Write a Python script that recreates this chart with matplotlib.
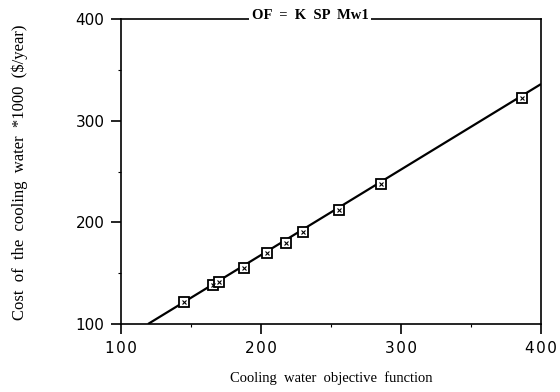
import matplotlib
matplotlib.use("Agg")
import matplotlib.pyplot as plt
from matplotlib.ticker import MultipleLocator, FixedLocator

# Cooling water objective function vs. annual cost of cooling water
objective = [145, 165.7, 170, 187.9, 204.3, 217.9, 230, 255.7, 285.7, 386.4]
cost = [121.6, 138.3, 141.3, 155, 169.8, 179.6, 190.5, 212, 237.7, 322]

# straight fitted line through the points
fit_x = [119.3, 400]
fit_y = [100, 336]

x_ticks = [100, 200, 300, 400]
y_ticks = [100, 200, 300, 400]

fig = plt.figure(figsize=(5.6, 3.92), dpi=100)
ax = fig.add_axes([121 / 560, 1 - 324 / 392, 420 / 560, 305 / 392])

ax.plot(fit_x, fit_y, color="black", lw=1.6, solid_capstyle="butt", zorder=3)
ax.plot(objective, cost, linestyle="none", marker="s", ms=7.5, mfc="white",
        mec="black", mew=1.3, zorder=4)
ax.plot(objective, cost, linestyle="none", marker="x", ms=3.5,
        mec="black", mew=0.8, zorder=5)

ax.set_xlim(100, 400)
ax.set_ylim(100, 400)
ax.xaxis.set_major_locator(FixedLocator(x_ticks))
ax.yaxis.set_major_locator(FixedLocator(y_ticks))
ax.xaxis.set_minor_locator(MultipleLocator(50))
ax.yaxis.set_minor_locator(MultipleLocator(50))

for s in ax.spines.values():
    s.set_linewidth(1.2)

ax.tick_params(which="major", direction="out", length=7, width=1.2,
               labelsize=11, pad=5)
ax.tick_params(which="minor", direction="out", length=2.5, width=0.8)
ax.set_xticklabels(["1\u200a0\u200a0", "2\u200a0\u200a0", "3\u200a0\u200a0", "4\u200a0\u200a0"])
for lab in ax.get_xticklabels() + ax.get_yticklabels():
    lab.set_family("DejaVu Sans")

serif = "Liberation Serif"
fig.text(331 / 560, 1 - 378 / 392, "Cooling  water  objective  function",
         ha="center", va="center", family=serif, fontsize=10.5)
fig.text(20 / 560, 1 - 172 / 392,
         "Cost  of  the  cooling  water  *1000  ($/year)",
         ha="center", va="center", rotation=90, family=serif, fontsize=12)

ax.text((310 - 121) / 420, 1.0, "OF  =  K  SP  Mw1", transform=ax.transAxes,
        ha="center", va="baseline", family=serif, fontweight="bold",
        fontsize=10.5, zorder=6, clip_on=False,
        bbox=dict(boxstyle="square,pad=0.2", fc="white", ec="none"))

fig.savefig("out.png", dpi=100)
